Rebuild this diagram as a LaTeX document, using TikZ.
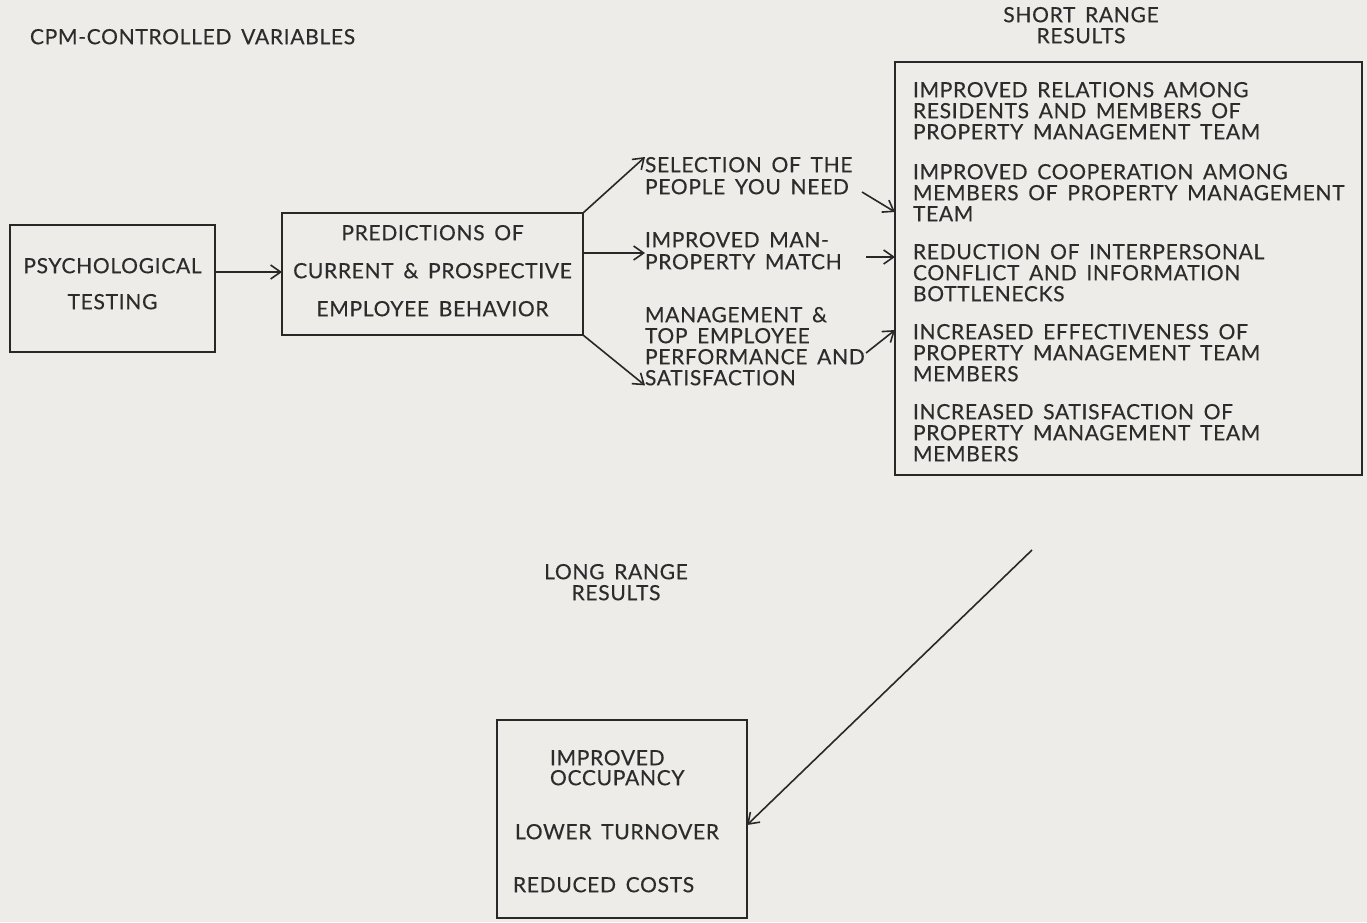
\documentclass[tikz,border=0pt]{standalone}
\usepackage{fontspec}
\setmainfont{Lato}[LetterSpace=3.3, FakeBold=0.4]
\usetikzlibrary{arrows.meta}
\definecolor{paper}{RGB}{237,236,232}
\definecolor{ink}{RGB}{40,40,40}
\definecolor{txt}{RGB}{44,44,44}
\newcommand\dgfont{\fontsize{21}{21}\selectfont\spaceskip=0.46em plus 0.1em\relax}
\newcommand\dgfontb{\fontsize{21}{22}\selectfont\spaceskip=0.46em plus 0.1em\relax}
\newcommand\dgfontc{\fontsize{21}{20}\selectfont\spaceskip=0.46em plus 0.1em\relax}
\tikzset{
  lbl/.style={inner sep=0pt, outer sep=0pt, text=txt, font=\dgfont, align=left},
  clbl/.style={lbl, align=center},
  boxst/.style={draw=ink, line width=2.2pt, inner sep=0pt, outer sep=0pt},
  arr/.style={draw=ink, line width=1.6pt, -{Straight Barb[length=10pt,width=14pt,line width=1.6pt]}},
}
\begin{document}
\begin{tikzpicture}[x=1pt,y=-1pt]
\fill[paper] (0,0) rectangle (1367,922);
\useasboundingbox (0,0) rectangle (1367,922);

% headings
\node[lbl, anchor=north west] (cpm) at (30,29) {CPM-CONTROLLED VARIABLES};
\node[clbl, anchor=north] (srl) at (1081,7) {SHORT RANGE\\RESULTS};
\node[clbl, anchor=north] (lrl) at (616,564) {LONG RANGE\\RESULTS};

% left boxes
\node[boxst, minimum width=205pt, minimum height=127pt] (psy) at (112.5,288.5) {};
\node[clbl, anchor=north] (psyt) at (112.5,258) {PSYCHOLOGICAL\\[15pt]TESTING};
\node[boxst, minimum width=301pt, minimum height=122pt] (pred) at (432.5,274) {};
\node[clbl, anchor=north] (predt) at (432.5,225) {PREDICTIONS OF\\[17pt]CURRENT \& PROSPECTIVE\\[17pt]EMPLOYEE BEHAVIOR};

% middle texts
\node[lbl, anchor=north west, font=\dgfontb] (sel) at (645,157) {SELECTION OF THE\\PEOPLE YOU NEED};
\node[lbl, anchor=north west, font=\dgfontb] (match) at (645,232) {IMPROVED MAN-\\PROPERTY MATCH};
\node[lbl, anchor=north west] (mgmt) at (645,307) {MANAGEMENT \&\\TOP EMPLOYEE\\PERFORMANCE AND\\SATISFACTION};

% short range box
\node[boxst, minimum width=467pt, minimum height=413pt] (sr) at (1128.5,268.5) {};
\node[lbl, anchor=north west] (sr1) at (913,82) {IMPROVED RELATIONS AMONG\\RESIDENTS AND MEMBERS OF\\PROPERTY MANAGEMENT TEAM};
\node[lbl, anchor=north west] (sr2) at (913,164) {IMPROVED COOPERATION AMONG\\MEMBERS OF PROPERTY MANAGEMENT\\TEAM};
\node[lbl, anchor=north west] (sr3) at (913,244) {REDUCTION OF INTERPERSONAL\\CONFLICT AND INFORMATION\\BOTTLENECKS};
\node[lbl, anchor=north west] (sr4) at (913,324) {INCREASED EFFECTIVENESS OF\\PROPERTY MANAGEMENT TEAM\\MEMBERS};
\node[lbl, anchor=north west] (sr5) at (913,404) {INCREASED SATISFACTION OF\\PROPERTY MANAGEMENT TEAM\\MEMBERS};

% long range box
\node[boxst, minimum width=250pt, minimum height=198pt] (lr) at (622,819) {};
\node[lbl, anchor=north west, font=\dgfontc] (lr1) at (550,750) {IMPROVED\\OCCUPANCY};
\node[lbl, anchor=north west] (lr2) at (515,824) {LOWER TURNOVER};
\node[lbl, anchor=north west] (lr3) at (513,877) {REDUCED COSTS};

% connectors
\draw[arr] (psy.east |- 0,272) -- (pred.west |- 0,272);
\draw[arr] (pred.north east) -- (sel.north west);
\draw[arr] ([yshift=21pt]pred.east) -- (match.west |- 0,253);
\draw[arr] (pred.south east) -- (mgmt.south west);

\coordinate (s1) at (862,192);
\coordinate (s2) at (866,257);
\coordinate (s3) at (866,353);
\draw[arr] (s1) -- (sr.west |- 0,212);
\draw[arr] (s2) -- (sr.west |- s2);
\draw[arr] (s3) -- (sr.west |- 0,330);

\coordinate (lstart) at (1032,550);
\draw[arr] (lstart) -- (lr.east |- 0,825);
\end{tikzpicture}
\end{document}
